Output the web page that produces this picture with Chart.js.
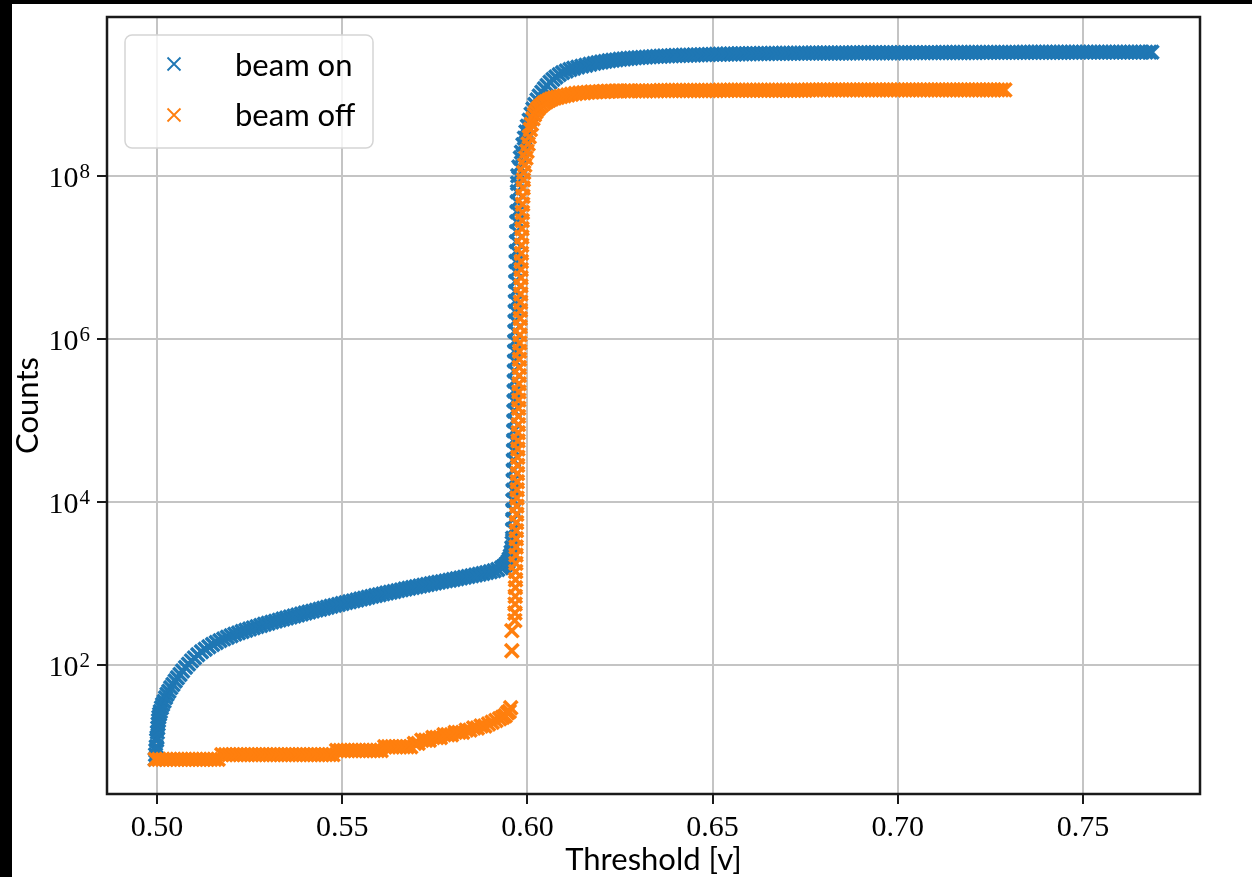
<!DOCTYPE html>
<html>
<head>
<meta charset="utf-8">
<script src="https://cdn.jsdelivr.net/npm/chart.js@4.4.1/dist/chart.umd.js"></script>
<style>
    html, body { margin: 0; padding: 0; background: #000; }
    #frame {
        position: absolute;
        left: 12px;
        top: 4px;
        width: 1240px;
        height: 873px;
        background: #fff;
    }
</style>
</head>
<body>
<div id="frame"><canvas id="scan"></canvas></div>
<script>
// threshold scan, [threshold (V), counts]
const beamOn = [
    [0.4995, 7], [0.4996, 8], [0.4997, 9], [0.4998, 10], [0.4999, 12], [0.5000, 13],
    [0.5001, 15], [0.5002, 17], [0.5003, 19], [0.5004, 21], [0.5005, 23], [0.5007, 25],
    [0.5009, 27], [0.5012, 30], [0.5015, 33], [0.5019, 36], [0.5023, 40], [0.5027, 44],
    [0.5032, 48], [0.5037, 53], [0.5043, 58], [0.5049, 64], [0.5055, 70], [0.5062, 77],
    [0.5069, 85], [0.5077, 94], [0.5085, 103], [0.5093, 113], [0.5101, 123],
    [0.511, 134], [0.512, 146], [0.513, 157], [0.514, 168], [0.515, 179], [0.516, 190],
    [0.517, 200], [0.518, 210], [0.519, 220], [0.520, 230], [0.521, 240], [0.522, 249],
    [0.523, 259], [0.524, 268], [0.525, 278], [0.526, 287], [0.527, 297], [0.528, 307],
    [0.529, 317], [0.530, 327], [0.531, 337], [0.532, 347], [0.533, 357], [0.534, 368],
    [0.535, 379], [0.536, 390], [0.537, 401], [0.538, 412], [0.539, 424], [0.540, 436],
    [0.541, 448], [0.542, 460], [0.543, 473], [0.544, 486], [0.545, 499], [0.546, 513],
    [0.547, 527], [0.548, 541], [0.549, 555], [0.550, 570], [0.551, 585], [0.552, 600],
    [0.553, 615], [0.554, 631], [0.555, 647], [0.556, 663], [0.557, 680], [0.558, 697],
    [0.559, 714], [0.560, 731], [0.561, 748], [0.562, 766], [0.563, 784], [0.564, 802],
    [0.565, 820], [0.566, 839], [0.567, 858], [0.568, 877], [0.569, 896], [0.570, 915],
    [0.571, 935], [0.572, 955], [0.573, 975], [0.574, 995], [0.575, 1016], [0.576, 1037],
    [0.577, 1058], [0.578, 1080], [0.579, 1102], [0.580, 1125], [0.581, 1148], [0.582, 1172],
    [0.583, 1197], [0.584, 1222], [0.585, 1248], [0.586, 1275], [0.587, 1303], [0.588, 1333],
    [0.589, 1365], [0.590, 1400], [0.591, 1440], [0.592, 1490], [0.593, 1560], [0.5935, 1610],
    [0.5940, 1680], [0.5944, 1760], [0.5948, 1870], [0.5951, 2000], [0.5954, 2180], [0.5956, 2420],
    [0.5958, 2750], [0.5959, 3150], [0.5960, 3600],
    [0.59603, 4600], [0.59606, 6100], [0.59609, 8000], [0.59612, 10500], [0.59615, 14000],
    [0.59618, 18500], [0.59621, 24500], [0.59624, 32500], [0.59627, 43000], [0.59630, 57000],
    [0.59633, 75000], [0.59636, 99000], [0.59639, 131000], [0.59642, 174000], [0.59645, 230000],
    [0.59648, 305000], [0.59651, 404000], [0.59654, 535000], [0.59657, 708000], [0.59660, 938000],
    [0.59664, 1.24e6], [0.59668, 1.65e6], [0.59672, 2.18e6], [0.59676, 2.89e6], [0.59680, 3.83e6],
    [0.59685, 5.07e6], [0.59690, 6.72e6], [0.59695, 8.9e6], [0.59700, 1.18e7], [0.59705, 1.56e7],
    [0.59710, 2.07e7], [0.59715, 2.74e7], [0.59720, 3.63e7], [0.59725, 4.81e7], [0.59730, 6.37e7],
    [0.59735, 8.1e7], [0.5974, 1.0e8], [0.5977, 1.28e8], [0.5981, 1.65e8], [0.5984, 1.95e8],
    [0.5988, 2.4e8], [0.5992, 2.9e8], [0.5996, 3.45e8], [0.6000, 4.05e8], [0.6005, 4.8e8],
    [0.6010, 5.7e8], [0.6015, 6.6e8], [0.6020, 7.5e8], [0.6026, 8.5e8], [0.6032, 9.5e8],
    [0.6039, 1.06e9], [0.6046, 1.17e9], [0.6053, 1.28e9], [0.6061, 1.4e9], [0.6069, 1.52e9],
    [0.6077, 1.63e9], [0.6086, 1.74e9], [0.6095, 1.84e9], [0.6105, 1.93e9], [0.6115, 2.01e9],
    [0.6125, 2.08e9], [0.6136, 2.15e9], [0.6147, 2.21e9], [0.6158, 2.27e9], [0.6169, 2.33e9],
    [0.6180, 2.39e9], [0.6190, 2.44e9], [0.6200, 2.49e9],
    [0.621, 2.53e9], [0.622, 2.57e9], [0.623, 2.61e9], [0.624, 2.64e9], [0.625, 2.68e9],
    [0.626, 2.71e9], [0.627, 2.74e9], [0.628, 2.76e9], [0.629, 2.79e9], [0.630, 2.81e9],
    [0.631, 2.83e9], [0.632, 2.85e9], [0.633, 2.87e9], [0.634, 2.89e9], [0.635, 2.91e9],
    [0.636, 2.92e9], [0.637, 2.94e9], [0.638, 2.95e9], [0.639, 2.97e9], [0.640, 2.98e9],
    [0.641, 2.99e9], [0.642, 3.00e9], [0.643, 3.01e9], [0.644, 3.02e9], [0.645, 3.03e9],
    [0.646, 3.04e9], [0.647, 3.05e9], [0.648, 3.06e9], [0.649, 3.07e9], [0.650, 3.08e9],
    [0.651, 3.09e9], [0.652, 3.09e9], [0.653, 3.10e9], [0.654, 3.11e9], [0.655, 3.11e9],
    [0.656, 3.12e9], [0.657, 3.13e9], [0.658, 3.13e9], [0.659, 3.14e9], [0.660, 3.14e9],
    [0.661, 3.15e9], [0.662, 3.15e9], [0.663, 3.16e9], [0.664, 3.16e9], [0.665, 3.16e9],
    [0.666, 3.17e9], [0.667, 3.17e9], [0.668, 3.17e9], [0.669, 3.18e9], [0.670, 3.18e9],
    [0.671, 3.18e9], [0.672, 3.18e9], [0.673, 3.19e9], [0.674, 3.19e9], [0.675, 3.19e9],
    [0.676, 3.19e9], [0.677, 3.20e9], [0.678, 3.20e9], [0.679, 3.20e9], [0.680, 3.20e9],
    [0.681, 3.20e9], [0.682, 3.21e9], [0.683, 3.21e9], [0.684, 3.21e9], [0.685, 3.21e9],
    [0.686, 3.21e9], [0.687, 3.21e9], [0.688, 3.22e9], [0.689, 3.22e9], [0.690, 3.22e9],
    [0.691, 3.22e9], [0.692, 3.22e9], [0.693, 3.22e9], [0.694, 3.22e9], [0.695, 3.23e9],
    [0.696, 3.23e9], [0.697, 3.23e9], [0.698, 3.23e9], [0.699, 3.23e9], [0.700, 3.23e9],
    [0.701, 3.23e9], [0.702, 3.23e9], [0.703, 3.24e9], [0.704, 3.24e9], [0.705, 3.24e9],
    [0.706, 3.24e9], [0.707, 3.24e9], [0.708, 3.24e9], [0.709, 3.24e9], [0.710, 3.24e9],
    [0.711, 3.24e9], [0.712, 3.25e9], [0.713, 3.25e9], [0.714, 3.25e9], [0.715, 3.25e9],
    [0.716, 3.25e9], [0.717, 3.25e9], [0.718, 3.25e9], [0.719, 3.25e9], [0.720, 3.25e9],
    [0.721, 3.25e9], [0.722, 3.26e9], [0.723, 3.26e9], [0.724, 3.26e9], [0.725, 3.26e9],
    [0.726, 3.26e9], [0.727, 3.26e9], [0.728, 3.26e9], [0.729, 3.26e9], [0.730, 3.26e9],
    [0.731, 3.26e9], [0.732, 3.26e9], [0.733, 3.26e9], [0.734, 3.27e9], [0.735, 3.27e9],
    [0.736, 3.27e9], [0.737, 3.27e9], [0.738, 3.27e9], [0.739, 3.27e9], [0.740, 3.27e9],
    [0.741, 3.27e9], [0.742, 3.27e9], [0.743, 3.27e9], [0.744, 3.27e9], [0.745, 3.27e9],
    [0.746, 3.27e9], [0.747, 3.27e9], [0.748, 3.28e9], [0.749, 3.28e9], [0.750, 3.28e9],
    [0.751, 3.28e9], [0.752, 3.28e9], [0.753, 3.28e9], [0.754, 3.28e9], [0.755, 3.28e9],
    [0.756, 3.28e9], [0.757, 3.28e9], [0.758, 3.28e9], [0.759, 3.28e9], [0.760, 3.28e9],
    [0.761, 3.28e9], [0.762, 3.28e9], [0.763, 3.28e9], [0.764, 3.28e9], [0.765, 3.28e9],
    [0.766, 3.28e9], [0.767, 3.28e9], [0.768, 3.28e9], [0.7686, 3.28e9],
];

const beamOff = [
    [0.4995, 7], [0.5005, 7], [0.5015, 7], [0.5025, 7], [0.5035, 7], [0.5045, 7],
    [0.5055, 7], [0.5065, 7], [0.5075, 7], [0.5085, 7], [0.5095, 7], [0.5105, 7],
    [0.5115, 7], [0.5125, 7], [0.5135, 7], [0.5145, 7], [0.5155, 7], [0.5165, 7],
    [0.5175, 8], [0.5185, 8], [0.5195, 8], [0.5205, 8], [0.5215, 8], [0.5225, 8],
    [0.5235, 8], [0.5245, 8], [0.5255, 8], [0.5265, 8], [0.5275, 8], [0.5285, 8],
    [0.5295, 8], [0.5305, 8], [0.5315, 8], [0.5325, 8], [0.5335, 8], [0.5345, 8],
    [0.5355, 8], [0.5365, 8], [0.5375, 8], [0.5385, 8], [0.5395, 8], [0.5405, 8],
    [0.5415, 8], [0.5425, 8], [0.5435, 8], [0.5445, 8], [0.5455, 8], [0.5465, 8],
    [0.5475, 8], [0.5485, 9], [0.5495, 9], [0.5505, 9], [0.5515, 9], [0.5525, 9],
    [0.5535, 9], [0.5545, 9], [0.5555, 9], [0.5565, 9], [0.5575, 9], [0.5585, 9],
    [0.5595, 9], [0.5605, 9], [0.5615, 10], [0.5625, 10], [0.5635, 10], [0.5645, 10],
    [0.5655, 10], [0.5665, 10], [0.5675, 10], [0.5685, 10], [0.5695, 11], [0.5705, 11],
    [0.5715, 12], [0.5725, 12], [0.5735, 12], [0.5745, 13], [0.5755, 13], [0.5765, 13],
    [0.5775, 14], [0.5785, 14], [0.5795, 14], [0.5805, 15], [0.5815, 15], [0.5825, 15],
    [0.5835, 16], [0.5845, 16], [0.5855, 17], [0.5865, 17], [0.5875, 18], [0.5885, 18],
    [0.5895, 19], [0.5905, 20], [0.5915, 21], [0.5925, 22], [0.5933, 23], [0.5940, 24],
    [0.5946, 26], [0.5951, 27], [0.5955, 30],
    [0.5958, 150], [0.5958, 265],
    [0.59660, 352], [0.59664, 437], [0.59668, 561], [0.59672, 698], [0.59676, 893],
    [0.59680, 1116], [0.59684, 1407], [0.59688, 1773], [0.59692, 2236], [0.59696, 2815],
    [0.59700, 3542], [0.59704, 4466], [0.59708, 5609], [0.59712, 7093], [0.59716, 8912],
    [0.59720, 11180], [0.59724, 14130], [0.59728, 17760], [0.59732, 22410], [0.59736, 28150],
    [0.59740, 35470], [0.59744, 44690], [0.59748, 56240], [0.59752, 70810], [0.59756, 89050],
    [0.59760, 112300], [0.59764, 141200], [0.59768, 177900], [0.59772, 224100], [0.59776, 281800],
    [0.59780, 355200], [0.59784, 446800], [0.59788, 562300], [0.59792, 707500], [0.59796, 891200],
    [0.59800, 1.12e6], [0.59804, 1.41e6], [0.59808, 1.78e6], [0.59812, 2.24e6], [0.59816, 2.82e6],
    [0.59820, 3.55e6], [0.59824, 4.47e6], [0.59828, 5.62e6], [0.59832, 7.08e6], [0.59836, 8.91e6],
    [0.59840, 1.12e7], [0.59845, 1.41e7], [0.59850, 1.78e7], [0.59855, 2.24e7], [0.59860, 2.82e7],
    [0.59866, 3.55e7], [0.59872, 4.47e7], [0.59878, 5.62e7], [0.59884, 7.08e7], [0.59892, 8.91e7],
    [0.5990, 1.1e8], [0.5993, 1.35e8], [0.5996, 1.65e8], [0.5999, 2.0e8], [0.6002, 2.45e8],
    [0.6005, 3.0e8], [0.6008, 3.7e8], [0.6011, 4.3e8], [0.6015, 5.0e8], [0.6019, 5.6e8],
    [0.6023, 6.1e8], [0.6028, 6.6e8], [0.6033, 7.0e8], [0.6039, 7.4e8], [0.6045, 7.8e8],
    [0.6051, 8.1e8], [0.6058, 8.45e8], [0.6065, 8.75e8], [0.6073, 9.0e8], [0.6081, 9.2e8],
    [0.6090, 9.4e8], [0.6099, 9.6e8], [0.6109, 9.8e8], [0.6119, 1.0e9], [0.6130, 1.02e9],
    [0.6141, 1.035e9], [0.6152, 1.045e9], [0.6163, 1.055e9], [0.6174, 1.063e9], [0.6185, 1.07e9],
    [0.6196, 1.076e9], [0.6207, 1.082e9], [0.6218, 1.087e9], [0.6229, 1.091e9], [0.6240, 1.094e9],
    [0.6251, 1.097e9], [0.6262, 1.099e9], [0.6273, 1.1e9],
    [0.628, 1.10e9], [0.629, 1.10e9], [0.630, 1.10e9], [0.631, 1.10e9], [0.632, 1.10e9],
    [0.633, 1.10e9], [0.634, 1.10e9], [0.635, 1.10e9], [0.636, 1.11e9], [0.637, 1.11e9],
    [0.638, 1.11e9], [0.639, 1.11e9], [0.640, 1.11e9], [0.641, 1.11e9], [0.642, 1.11e9],
    [0.643, 1.11e9], [0.644, 1.11e9], [0.645, 1.11e9], [0.646, 1.11e9], [0.647, 1.11e9],
    [0.648, 1.11e9], [0.649, 1.11e9], [0.650, 1.11e9], [0.651, 1.11e9], [0.652, 1.12e9],
    [0.653, 1.12e9], [0.654, 1.12e9], [0.655, 1.12e9], [0.656, 1.12e9], [0.657, 1.12e9],
    [0.658, 1.12e9], [0.659, 1.12e9], [0.660, 1.12e9], [0.661, 1.12e9], [0.662, 1.12e9],
    [0.663, 1.12e9], [0.664, 1.12e9], [0.665, 1.12e9], [0.666, 1.12e9], [0.667, 1.12e9],
    [0.668, 1.12e9], [0.669, 1.12e9], [0.670, 1.12e9], [0.671, 1.12e9], [0.672, 1.12e9],
    [0.673, 1.12e9], [0.674, 1.12e9], [0.675, 1.12e9], [0.676, 1.13e9], [0.677, 1.13e9],
    [0.678, 1.13e9], [0.679, 1.13e9], [0.680, 1.13e9], [0.681, 1.13e9], [0.682, 1.13e9],
    [0.683, 1.13e9], [0.684, 1.13e9], [0.685, 1.13e9], [0.686, 1.13e9], [0.687, 1.13e9],
    [0.688, 1.13e9], [0.689, 1.13e9], [0.690, 1.13e9], [0.691, 1.13e9], [0.692, 1.13e9],
    [0.693, 1.13e9], [0.694, 1.13e9], [0.695, 1.13e9], [0.696, 1.13e9], [0.697, 1.13e9],
    [0.698, 1.13e9], [0.699, 1.13e9], [0.700, 1.13e9], [0.701, 1.13e9], [0.702, 1.13e9],
    [0.703, 1.13e9], [0.704, 1.13e9], [0.705, 1.13e9], [0.706, 1.13e9], [0.707, 1.13e9],
    [0.708, 1.13e9], [0.709, 1.13e9], [0.710, 1.13e9], [0.711, 1.13e9], [0.712, 1.13e9],
    [0.713, 1.13e9], [0.714, 1.13e9], [0.715, 1.13e9], [0.716, 1.13e9], [0.717, 1.13e9],
    [0.718, 1.13e9], [0.719, 1.13e9], [0.720, 1.13e9], [0.721, 1.13e9], [0.722, 1.13e9],
    [0.723, 1.13e9], [0.724, 1.13e9], [0.725, 1.13e9], [0.726, 1.13e9], [0.727, 1.13e9],
    [0.728, 1.13e9], [0.7289, 1.13e9],
];

const seriesLabels = ['beam on', 'beam off'];
const seriesColors = ['#1f77b4', '#ff7f0e'];
const thresholdTicks = [0.50, 0.55, 0.60, 0.65, 0.70, 0.75];
const countTicks = [1e2, 1e4, 1e6, 1e8];

const sansFont = 'Lato';
const serifFont = '"Liberation Serif", "DejaVu Serif", serif';

// "10" with a raised exponent, drawn next to each decade tick
const decadeLabels = {
    id: 'decadeLabels',
    afterDraw(chart) {
        const {ctx, scales: {y}} = chart;
        const right = y.right - 17;
        ctx.save();
        ctx.fillStyle = '#000';
        ctx.textAlign = 'left';
        ctx.textBaseline = 'alphabetic';
        y.ticks.forEach((tick) => {
            const py = y.getPixelForValue(tick.value);
            const exp = String(Math.round(Math.log10(tick.value)));
            ctx.font = '21px ' + serifFont;
            const wExp = ctx.measureText(exp).width;
            ctx.font = '30px ' + serifFont;
            const wBase = ctx.measureText('10').width;
            const xExp = right - wExp;
            ctx.fillText('10', xExp - wBase - 1, py + 11);
            ctx.font = '21px ' + serifFont;
            ctx.fillText(exp, xExp, py + 2);
        });
        ctx.restore();
    },
};

// box round the plot area
const plotFrame = {
    id: 'plotFrame',
    afterDatasetsDraw(chart) {
        const {ctx, chartArea: a} = chart;
        ctx.save();
        ctx.strokeStyle = '#1a1a1a';
        ctx.lineWidth = 2.5;
        ctx.strokeRect(a.left, a.top, a.right - a.left, a.bottom - a.top);
        ctx.restore();
    },
};

// legend drawn inside the upper left corner
const insetLegend = {
    id: 'insetLegend',
    afterDraw(chart) {
        const {ctx, chartArea: a} = chart;
        const left = a.left + 18;
        const top = a.top + 18;
        ctx.save();
        ctx.beginPath();
        ctx.roundRect(left, top, 248, 113, 7);
        ctx.fillStyle = 'rgba(255,255,255,0.8)';
        ctx.fill();
        ctx.strokeStyle = '#d5d5d5';
        ctx.lineWidth = 1.5;
        ctx.stroke();

        seriesLabels.forEach((label, i) => {
            const cy = top + 29 + i * 51;
            const cx = left + 49;
            const h = 6.5;
            ctx.beginPath();
            ctx.moveTo(cx - h, cy - h);
            ctx.lineTo(cx + h, cy + h);
            ctx.moveTo(cx - h, cy + h);
            ctx.lineTo(cx + h, cy - h);
            ctx.strokeStyle = seriesColors[i];
            ctx.lineWidth = 1.8;
            ctx.stroke();

            ctx.fillStyle = '#000';
            ctx.font = '31px ' + sansFont;
            ctx.textBaseline = 'alphabetic';
            ctx.fillText(label, left + 110, top + 41 + i * 50);
        });
        ctx.restore();
    },
};

const toPoints = (rows) => rows.map(([x, y]) => ({x, y}));

new Chart(document.getElementById('scan'), {
    type: 'scatter',
    data: {
        datasets: [beamOn, beamOff].map((rows, i) => ({
            label: seriesLabels[i],
            data: toPoints(rows),
            pointStyle: 'crossRot',
            pointRadius: 9.5,
            pointBorderWidth: 3.5,
            borderColor: seriesColors[i],
            backgroundColor: seriesColors[i],
            order: 2 - i,
        })),
    },
    options: {
        responsive: true,
        maintainAspectRatio: false,
        animation: false,
        events: [],
        layout: {
            padding: {top: 12, right: 52, left: 0, bottom: 0},
        },
        plugins: {
            legend: {display: false},
            tooltip: {enabled: false},
        },
        scales: {
            x: {
                type: 'linear',
                min: 0.4865,
                max: 0.7816,
                afterBuildTicks: (scale) => {
                    scale.ticks = thresholdTicks.map((value) => ({value}));
                },
                afterFit: (scale) => {
                    scale.height = 83;
                },
                border: {display: false},
                grid: {
                    color: '#c4c4c4',
                    lineWidth: 2,
                    tickLength: 10,
                    tickColor: '#1a1a1a',
                    tickWidth: 2,
                },
                ticks: {
                    autoSkip: false,
                    maxRotation: 0,
                    padding: 6,
                    color: '#000',
                    font: {family: serifFont, size: 30},
                    callback: (value) => Number(value).toFixed(2),
                },
                title: {
                    display: true,
                    text: 'Threshold [v]',
                    color: '#000',
                    font: {family: sansFont, size: 31, lineHeight: 1},
                    padding: {top: 0, bottom: 2},
                },
            },
            y: {
                type: 'logarithmic',
                min: 2.634,
                max: 8.85e9,
                afterBuildTicks: (scale) => {
                    scale.ticks = countTicks.map((value) => ({value}));
                },
                afterFit: (scale) => {
                    scale.width = 95;
                },
                border: {display: false},
                grid: {
                    color: '#c4c4c4',
                    lineWidth: 2,
                    tickLength: 10,
                    tickColor: '#1a1a1a',
                    tickWidth: 2,
                },
                ticks: {display: false},
                title: {
                    display: true,
                    text: 'Counts',
                    color: '#000',
                    font: {family: sansFont, size: 31, lineHeight: 1},
                    padding: {top: 0, bottom: 0},
                },
            },
        },
    },
    plugins: [plotFrame, decadeLabels, insetLegend],
});
</script>
</body>
</html>
